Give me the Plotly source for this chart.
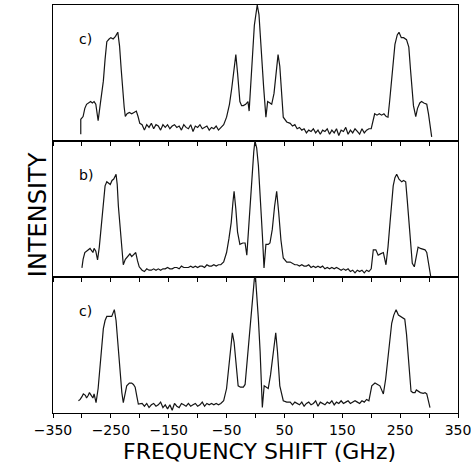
import plotly.graph_objects as go
from plotly.subplots import make_subplots

# Frequency shift grids for the noisy baseline stretches (GHz)
left_grid = list(range(-196, -59, 4))
right_grid = list(range(60, 197, 4))

# ---------------- panel 1 (top, "c)") ----------------
p1_left = [(-302, 0.05), (-302, 0.16), (-298, 0.18), (-295, 0.24), (-292, 0.27), (-289, 0.28),
           (-285, 0.29), (-282, 0.28), (-279, 0.29), (-276, 0.27), (-272, 0.15), (-268, 0.28),
           (-263, 0.44), (-260, 0.60), (-257, 0.73), (-253, 0.75), (-250, 0.76), (-246, 0.75),
           (-242, 0.77), (-238, 0.80), (-235, 0.70), (-232, 0.52), (-230, 0.39), (-227, 0.25),
           (-225, 0.18), (-222, 0.20), (-218, 0.21), (-214, 0.20), (-210, 0.21), (-206, 0.22),
           (-203, 0.18), (-200, 0.13)]
p1_base_left = [0.12, 0.08, 0.12, 0.10, 0.13, 0.09, 0.12, 0.11, 0.08, 0.12,
                0.10, 0.12, 0.09, 0.11, 0.12, 0.10, 0.11, 0.08, 0.12, 0.10,
                0.09, 0.12, 0.07, 0.11, 0.10, 0.12, 0.09, 0.10, 0.11, 0.08,
                0.10, 0.09, 0.11, 0.08, 0.10]
p1_center = [(-55, 0.12), (-50, 0.175), (-45, 0.27), (-41, 0.39), (-37, 0.55), (-34, 0.635),
             (-31, 0.50), (-27, 0.29), (-24, 0.26), (-21, 0.26), (-17, 0.27), (-13, 0.29),
             (-11, 0.22), (-8, 0.40), (-5, 0.64), (-2, 0.85), (3, 1.0), (6, 0.93), (8, 0.78),
             (11, 0.60), (14, 0.40), (18, 0.175), (21, 0.29), (25, 0.28), (28, 0.27), (32, 0.35),
             (36, 0.52), (39, 0.635), (42, 0.55), (45, 0.35), (48, 0.175), (54, 0.14)]
p1_base_right = [0.13, 0.11, 0.12, 0.09, 0.10, 0.08, 0.09, 0.06, 0.08, 0.07,
                 0.09, 0.06, 0.08, 0.05, 0.08, 0.07, 0.09, 0.05, 0.08, 0.06,
                 0.09, 0.04, 0.08, 0.07, 0.10, 0.05, 0.08, 0.06, 0.09, 0.07,
                 0.05, 0.09, 0.06, 0.08, 0.09]
p1_right = [(200, 0.09), (203, 0.15), (206, 0.20), (210, 0.19), (214, 0.20), (218, 0.19),
            (222, 0.20), (226, 0.18), (229, 0.175), (232, 0.30), (235, 0.44), (238, 0.60),
            (241, 0.71), (245, 0.78), (248, 0.80), (252, 0.76), (256, 0.76), (261, 0.745),
            (265, 0.69), (268, 0.52), (270, 0.39), (273, 0.26), (277, 0.18), (280, 0.24),
            (284, 0.28), (287, 0.29), (291, 0.28), (296, 0.27), (299, 0.20), (302, 0.10),
            (304.5, 0.03)]

# ---------------- panel 2 (middle, "b)") ----------------
p2_left = [(-300, 0.067), (-298, 0.13), (-295, 0.18), (-290, 0.20), (-286, 0.21), (-281, 0.18),
           (-279, 0.21), (-276, 0.19), (-273, 0.125), (-270, 0.22), (-266, 0.40), (-263, 0.55),
           (-260, 0.67), (-257, 0.70), (-254, 0.69), (-251, 0.68), (-248, 0.71), (-245, 0.72),
           (-241, 0.755), (-239, 0.68), (-237, 0.52), (-234, 0.35), (-231, 0.18), (-228.5, 0.09),
           (-225, 0.13), (-220, 0.16), (-217, 0.17), (-214, 0.15), (-210, 0.17), (-207, 0.18),
           (-204, 0.12), (-201, 0.075)]
p2_base_left = [0.05, 0.04, 0.06, 0.05, 0.05, 0.06, 0.05, 0.06, 0.05, 0.06,
                0.06, 0.07, 0.06, 0.06, 0.07, 0.07, 0.06, 0.08, 0.07, 0.07,
                0.07, 0.08, 0.07, 0.08, 0.07, 0.08, 0.08, 0.07, 0.09, 0.08,
                0.08, 0.09, 0.08, 0.09, 0.09]
p2_center = [(-55, 0.11), (-50, 0.18), (-46, 0.28), (-42, 0.40), (-39, 0.55), (-37, 0.63),
             (-34, 0.50), (-31, 0.33), (-27, 0.24), (-22, 0.25), (-18, 0.25), (-15, 0.16),
             (-12, 0.35), (-9.5, 0.52), (-6, 0.75), (-3, 0.92), (-1, 1.0), (2, 0.95), (5, 0.82),
             (8, 0.64), (10, 0.45), (12, 0.30), (14.7, 0.067), (18, 0.24), (22, 0.24), (25, 0.25),
             (29, 0.35), (33, 0.52), (36.6, 0.63), (40, 0.48), (44, 0.27), (48, 0.14), (54, 0.11)]
p2_base_right = [0.11, 0.10, 0.09, 0.09, 0.08, 0.09, 0.08, 0.08, 0.09, 0.07,
                 0.08, 0.07, 0.08, 0.07, 0.08, 0.06, 0.07, 0.06, 0.07, 0.06,
                 0.07, 0.06, 0.05, 0.06, 0.05, 0.06, 0.04, 0.05, 0.03, 0.05,
                 0.04, 0.05, 0.03, 0.05, 0.04]
p2_right = [(200, 0.06), (203.6, 0.20), (208, 0.20), (212, 0.16), (216, 0.17), (221, 0.18),
            (225.5, 0.09), (229, 0.22), (232.5, 0.40), (235, 0.55), (238, 0.67), (241, 0.73),
            (244, 0.755), (248, 0.72), (252.7, 0.70), (256, 0.71), (259.6, 0.70), (262, 0.58),
            (265, 0.40), (268, 0.22), (271, 0.10), (274.5, 0.075), (278, 0.17), (281, 0.22),
            (285, 0.21), (290, 0.20), (293, 0.20), (296, 0.18), (299, 0.10), (303, 0.0)]

# ---------------- panel 3 (bottom, "c)") ----------------
p3_left = [(-306, 0.09), (-303, 0.10), (-300, 0.12), (-297.6, 0.14), (-294, 0.13), (-292, 0.11),
           (-289, 0.13), (-287, 0.15), (-284, 0.13), (-281, 0.11), (-279, 0.14), (-275.6, 0.076),
           (-272, 0.18), (-269, 0.32), (-266, 0.48), (-263, 0.62), (-260, 0.68), (-257, 0.71),
           (-253, 0.71), (-248.5, 0.71), (-244, 0.76), (-241, 0.68), (-238, 0.52), (-234, 0.27),
           (-231, 0.15), (-228.5, 0.076), (-225, 0.14), (-222.6, 0.20), (-218, 0.22), (-214, 0.22),
           (-211, 0.21), (-208, 0.19), (-205, 0.12), (-202.5, 0.066)]
p3_base_left = [0.07, 0.05, 0.07, 0.04, 0.06, 0.07, 0.05, 0.06, 0.08, 0.04,
                0.06, 0.03, 0.06, 0.02, 0.07, 0.05, 0.04, 0.07, 0.06, 0.05,
                0.07, 0.05, 0.06, 0.07, 0.05, 0.06, 0.08, 0.05, 0.07, 0.06,
                0.07, 0.06, 0.07, 0.06, 0.07]
p3_center = [(-55, 0.09), (-50, 0.18), (-47, 0.30), (-44, 0.44), (-40, 0.59), (-37, 0.52),
             (-34, 0.37), (-30, 0.20), (-26, 0.19), (-21, 0.19), (-18, 0.21), (-15, 0.35),
             (-12, 0.50), (-9.5, 0.64), (-6, 0.82), (-2, 0.985), (0, 1.0), (3, 0.85), (5, 0.69),
             (8, 0.45), (9.5, 0.30), (11.8, 0.04), (15, 0.20), (19, 0.19), (22, 0.18), (26, 0.28),
             (30, 0.44), (35, 0.59), (38, 0.45), (42, 0.20), (48, 0.09), (54, 0.08)]
p3_base_right = [0.08, 0.06, 0.08, 0.07, 0.06, 0.08, 0.05, 0.07, 0.08, 0.06,
                 0.07, 0.09, 0.05, 0.08, 0.07, 0.06, 0.08, 0.07, 0.09, 0.06,
                 0.08, 0.07, 0.09, 0.07, 0.08, 0.09, 0.07, 0.08, 0.09, 0.08,
                 0.07, 0.09, 0.08, 0.10, 0.09]
p3_right = [(201, 0.20), (206.5, 0.22), (211, 0.21), (215, 0.20), (218, 0.17), (221, 0.14),
            (225, 0.25), (229.5, 0.42), (232, 0.55), (235.4, 0.66), (239, 0.72), (243, 0.76),
            (247, 0.72), (250, 0.71), (254, 0.70), (258, 0.69), (261, 0.58), (264, 0.42),
            (266, 0.28), (268.8, 0.16), (272, 0.15), (275.7, 0.15), (278, 0.17), (281, 0.16),
            (285, 0.15), (290, 0.145), (293, 0.15), (296, 0.14), (299, 0.09), (301.6, 0.04)]

panel_labels = ['c)', 'b)', 'c)']
tick_vals = list(range(-350, 351, 50))
tick_text = ['\u2212350', '', '\u2212250', '', '\u2212150', '', '\u221250', '', '50', '',
             '150', '', '250', '', '350']

FONT = 'DejaVu Sans, Liberation Sans, sans-serif'


def spectrum(left, base_l, center, base_r, right):
    xs = [p[0] for p in left] + left_grid + [p[0] for p in center] + right_grid + [p[0] for p in right]
    ys = [p[1] for p in left] + base_l + [p[1] for p in center] + base_r + [p[1] for p in right]
    return xs, ys


panels = [
    spectrum(p1_left, p1_base_left, p1_center, p1_base_right, p1_right),
    spectrum(p2_left, p2_base_left, p2_center, p2_base_right, p2_right),
    spectrum(p3_left, p3_base_left, p3_center, p3_base_right, p3_right),
]

fig = make_subplots(rows=3, cols=1, shared_xaxes=True, vertical_spacing=0)

for i, (xs, ys) in enumerate(panels):
    fig.add_trace(go.Scatter(x=xs, y=ys, mode='lines',
                             line=dict(color='#151515', width=1.2),
                             showlegend=False, hoverinfo='skip'), row=i + 1, col=1)
    fig.update_yaxes(range=[0, 1.0], showline=True, mirror=True, linecolor='black', linewidth=1,
                     showticklabels=False, ticks='', showgrid=False, zeroline=False,
                     automargin=False, row=i + 1, col=1)
    fig.add_annotation(text=panel_labels[i], xref='x domain', yref='y domain',
                       x=0.06, y=0.82, showarrow=False,
                       font=dict(size=14, color='black', family=FONT),
                       row=i + 1, col=1)

# ticks below each panel line (inside the next panel, outside for the last one)
fig.update_xaxes(range=[-350, 350], showline=True, mirror=True, linecolor='black', linewidth=1,
                 showgrid=False, zeroline=False, ticks='outside', ticklen=4, tickcolor='black',
                 tickvals=tick_vals, ticktext=tick_text, automargin=False,
                 ticklabeloverflow='allow')
fig.update_xaxes(showticklabels=True, tickfont=dict(size=14, color='black', family=FONT),
                 row=3, col=1)

# inward ticks along the top edge of the first panel
fig.update_layout(xaxis4=dict(overlaying='x', anchor='y', side='top', range=[-350, 350],
                              ticks='inside', ticklen=4, tickcolor='black',
                              tickvals=tick_vals, showticklabels=False, automargin=False,
                              showgrid=False, zeroline=False, showline=False))

fig.add_annotation(text='INTENSITY', xref='paper', yref='paper', x=-0.0765, y=0.485,
                   textangle=-90, showarrow=False,
                   font=dict(size=24, color='black', family=FONT))
fig.add_annotation(text='FREQUENCY SHIFT (GHz)', xref='paper', yref='paper', x=0.51, y=-0.094,
                   yanchor='middle', showarrow=False,
                   font=dict(size=22, color='black', family=FONT))

fig.update_layout(width=471, height=464, margin=dict(l=53, r=13, t=5, b=51, autoexpand=False),
                  plot_bgcolor='white', paper_bgcolor='white',
                  font=dict(family=FONT, color='black'))

# drop the browser's default body margin so the figure sits at the page corner
fig.write_html("out.html", config={'displayModeBar': False},
               post_script="document.body.style.margin = '0';")
